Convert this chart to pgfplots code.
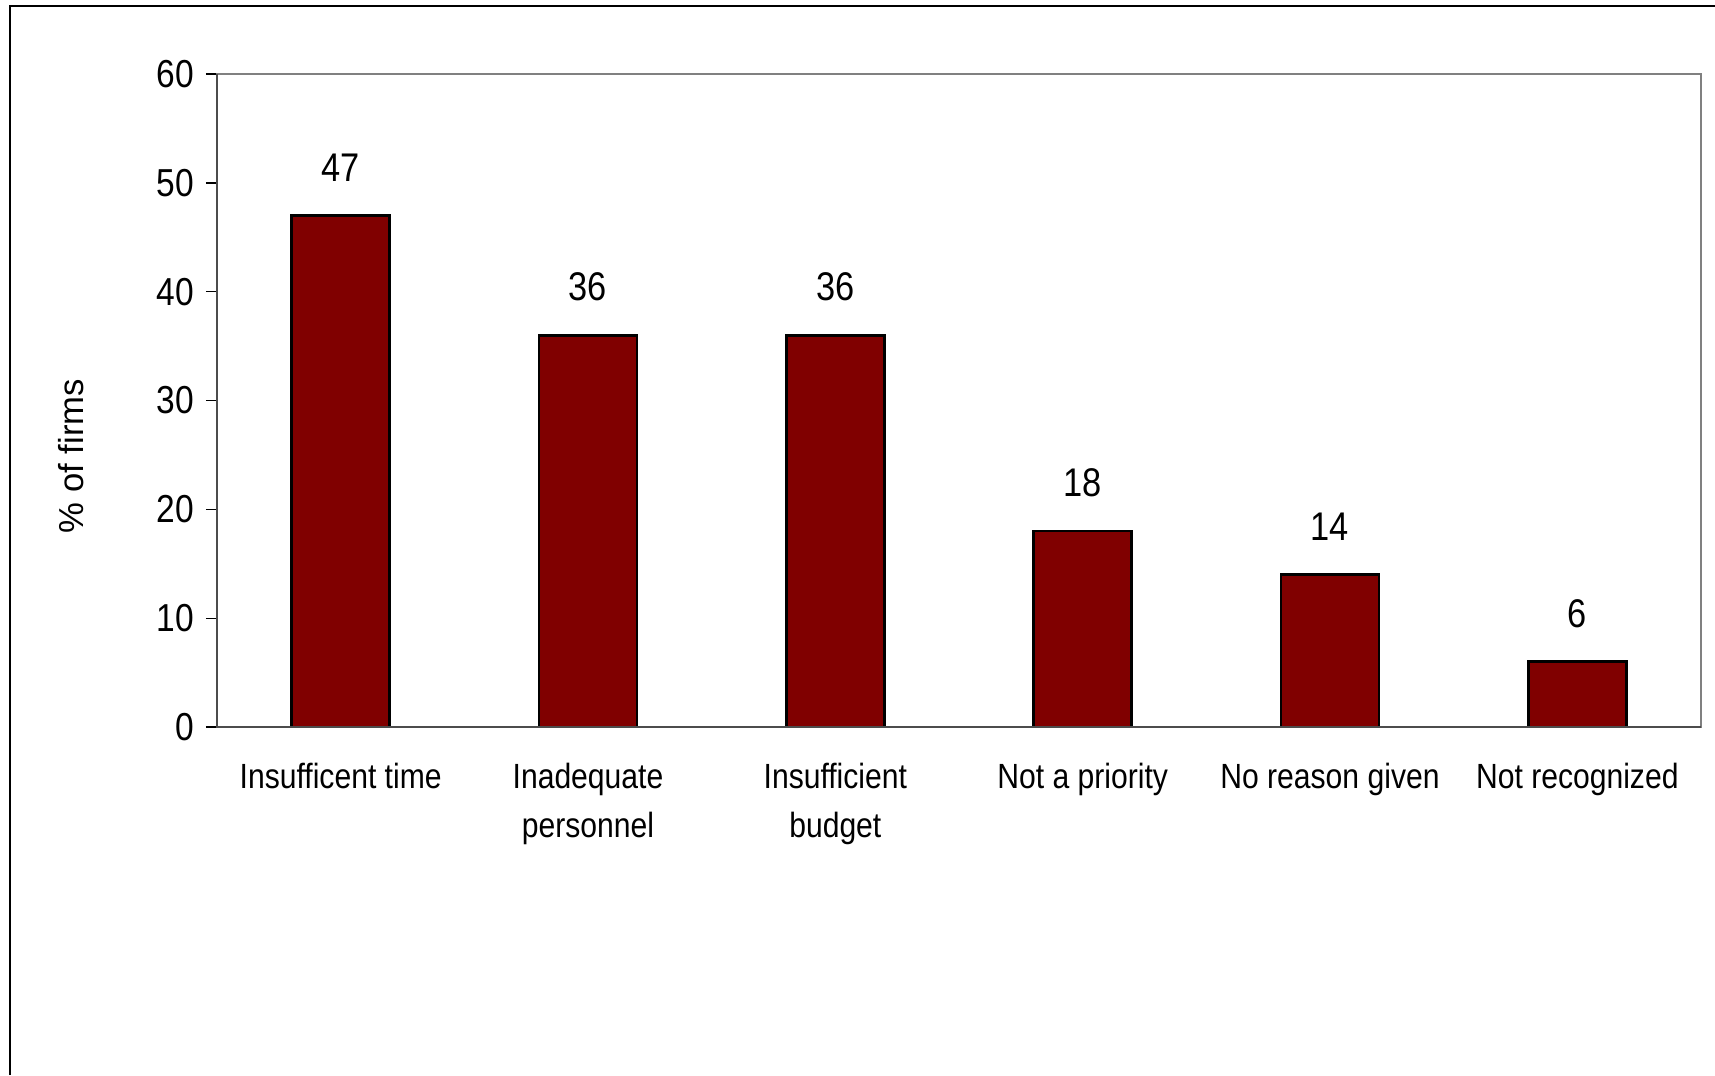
\documentclass[border=0pt]{standalone}
\usepackage{fontspec}
\setmainfont{Liberation Sans}
\newfontfamily\cond[FakeStretch=0.86]{Liberation Sans}
\usepackage{pgfplots}
\pgfplotsset{compat=1.18}
\definecolor{barred}{HTML}{800000}
\begin{document}
\begin{tikzpicture}[x=0.3pt,y=0.3pt]
\path[use as bounding box] (0,0) rectangle (1715,-1075);
\draw[line width=0.4pt] (10,-1075) -- (10,-6) -- (1715,-6);
\begin{axis}[at={(65.1pt,-218.1pt)}, anchor=south west, scale only axis,
  width=445.2pt, height=195.9pt,
  xmin=-0.5, xmax=5.5, ymin=0, ymax=60, ytick={0,10,...,60}, xtick={0,...,5},
  xticklabels={Insufficent time, Inadequate\\personnel, Insufficient\\budget, Not a priority, No reason given, Not recognized},
  axis line style={draw=gray, line width=0.6pt},
  tick style={black, line width=0.4pt}, major tick length=3.3pt, tick align=outside, tick pos=left,
  xtick style={draw=none},
  /pgf/number format/assume math mode=true,
  yticklabel style={font=\cond\fontsize{11.7}{14}\selectfont},
  xticklabel style={font=\cond\fontsize{10.5}{14.6}\selectfont, align=center, anchor=north, inner sep=0pt, yshift=-7.4pt},
  ybar, bar width=29.4pt,
  nodes near coords,
  nodes near coords style={font=\cond\fontsize{12}{14}\selectfont, anchor=center, yshift=14.4pt, text=black},
  clip=false,
]
\addplot[fill=barred, draw=black, line width=0.8pt] coordinates {(0,47)(1,36)(2,36)(3,18)(4,14)(5,6)};
\draw[black!70, line width=0.6pt] (rel axis cs:0,1) -- (rel axis cs:0,0) -- (rel axis cs:1,0);
\end{axis}
\node[rotate=90, font=\fontsize{10.4}{12}\selectfont] at (71,-456) {\% of firms};
\end{tikzpicture}
\end{document}
